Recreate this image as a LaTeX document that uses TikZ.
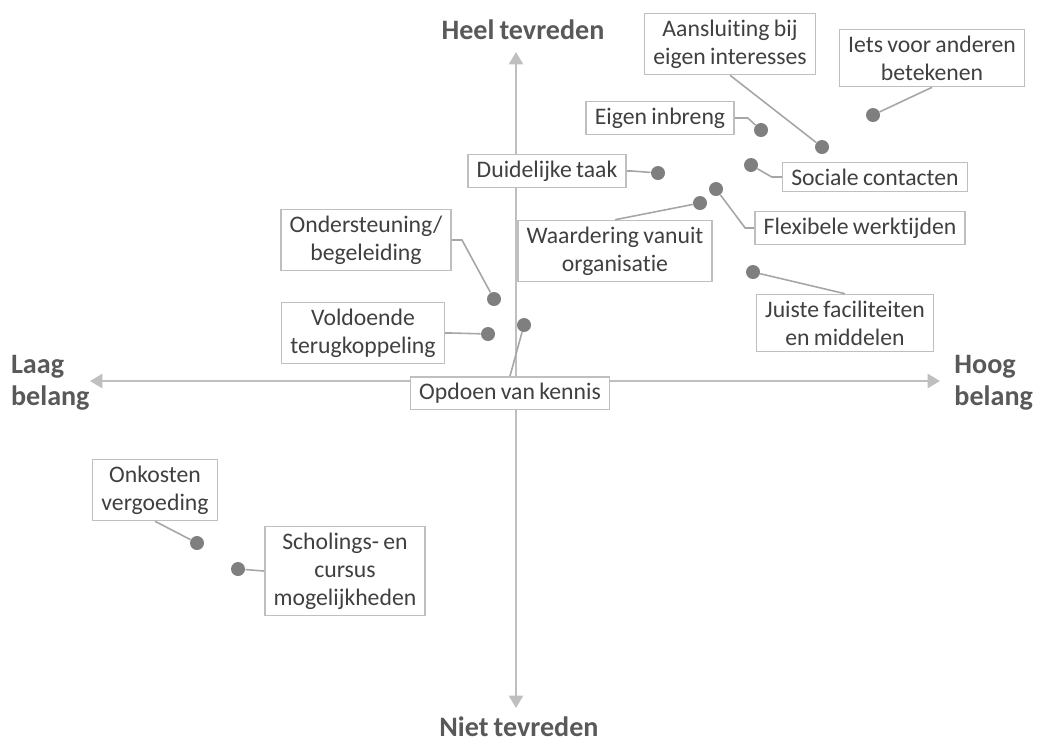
\documentclass[tikz,border=0pt]{standalone}
\usepackage{fontspec}
\setmainfont{Carlito}[Ligatures=NoCommon,WordSpace=0.8]
\usetikzlibrary{arrows.meta}
\definecolor{axisgray}{HTML}{BFBFBF}
\definecolor{dotgray}{HTML}{7F7F7F}
\definecolor{leadgray}{HTML}{A6A6A6}
\definecolor{txtgray}{HTML}{404040}
\definecolor{headgray}{HTML}{595959}
\tikzset{
  lbl/.style={draw=axisgray,line width=0.9pt,fill=white,align=center,text=txtgray,
    font=\fontsize{13.5}{16}\selectfont,inner xsep=5pt,inner ysep=3.5pt},
  dot/.style={circle,fill=dotgray,minimum size=0.28cm,inner sep=0pt},
  lead/.style={leadgray,line width=0.9pt},
  axis/.style={axisgray,line width=1.3pt,-{Triangle[length=7pt,width=8pt]}},
  head/.style={font=\fontsize{16}{18}\selectfont\bfseries,text=headgray,align=left,inner sep=1pt}
}

\begin{document}
\begin{tikzpicture}[x=0.02cm,y=-0.02cm]
\useasboundingbox (0,0) rectangle (1037,745);
% axes
\coordinate (o) at (516,381);
\draw[axis] (o) -- (90,381);
\draw[axis] (o) -- (940,381);
\draw[axis] (o) -- (516,52);
\draw[axis] (o) -- (516,708);
\node[head] (top) at (523,30) {Heel tevreden};
\node[head] (bot) at (519,727) {Niet tevreden};
\node[head,anchor=west] (lft) at (9,383) {Laag\\belang};
\node[head,anchor=east] (rgt) at (1035,383) {Hoog\\belang};
% points
\node[dot] (p1) at (822,147) {};
\node[dot] (p2) at (873,115) {};
\node[dot] (p3) at (761,130) {};
\node[dot] (p4) at (658,173) {};
\node[dot] (p5) at (751,165) {};
\node[dot] (p6) at (716,189) {};
\node[dot] (p7) at (700,203) {};
\node[dot] (p8) at (494,299) {};
\node[dot] (p9) at (488,334) {};
\node[dot] (p10) at (524,325) {};
\node[dot] (p11) at (753,272) {};
\node[dot] (p12) at (197,543) {};
\node[dot] (p13) at (238,569) {};
% labels
\node[lbl] (b1) at (730,44) {Aansluiting bij\\eigen interesses};
\node[lbl] (b2) at (932,58) {Iets voor anderen\\betekenen};
\node[lbl] (b3) at (660,118) {Eigen inbreng};
\node[lbl] (b4) at (547,171) {Duidelijke taak};
\node[lbl] (b5) at (875,177) {Sociale contacten};
\node[lbl] (b6) at (860,228) {Flexibele werktijden};
\node[lbl] (b7) at (615,251) {Waardering vanuit\\organisatie};
\node[lbl] (b8) at (366,240) {Ondersteuning/\\begeleiding};
\node[lbl] (b9) at (363,333) {Voldoende\\terugkoppeling};
\node[lbl] (b10) at (510,393) {Opdoen van kennis};
\node[lbl] (b11) at (845,323) {Juiste faciliteiten\\en middelen};
\node[lbl] (b12) at (155,490) {Onkosten\\vergoeding};
\node[lbl] (b13) at (345,571) {Scholings- en\\cursus\\mogelijkheden};
% leaders
\draw[lead] (b1.south) -- (p1);
\draw[lead] (b2.south) -- (p2);
\draw[lead] (b3.east) -- ++(13,0) -- (p3);
\draw[lead] (b4.east) -- ++(5,0) -- (p4);
\draw[lead] (b5.west) -- ++(-10,0) -- (p5);
\draw[lead] (b6.west) -- ++(-9,0) -- (p6);
\draw[lead] (b7.north) -- (p7);
\draw[lead] (b8.east) -- ++(10,0) -- (p8);
\draw[lead] (b9.east) -- ++(6,0) -- (p9);
\draw[lead] (b10.north) -- (p10);
\draw[lead] (b11.north) -- (p11);
\draw[lead] (b12.south) -- (p12);
\draw[lead] (b13.west) -- (p13);
\end{tikzpicture}
\end{document}
